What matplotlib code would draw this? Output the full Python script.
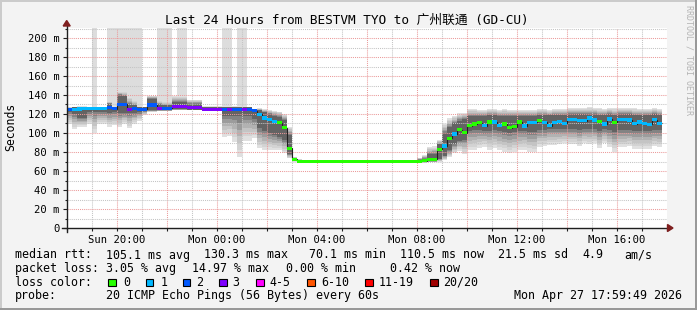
import numpy as np
import matplotlib.pyplot as plt
from matplotlib.patches import Rectangle, Polygon

plt.rcParams['font.family'] = ['DejaVu Sans Mono', 'Noto Sans CJK SC']

W, H = 697, 310
step_h = 0.2  # one step = 12 min, t=0 is Sun 18:00

# median rtt per step (ms)
median = [125, 125, 125.3, 125.5, 125.5, 125.5, 126, 126, 126.6, 125.5,
          130.2, 130.2, 125, 126, 125, 125, 129.5, 129.5, 126, 126,
          126, 127.7, 127.7, 127.7, 126.5, 126.5, 126.5, 125, 125, 125,
          125, 125, 125, 125, 125, 125, 125, 123.5, 119.5, 115.8,
          114, 112.2, 110.8, 105.6, 83.9, 72.3] + [70.3] * 25 + \
         [71, 72.5, 72.5, 82.8, 86.3, 94.4, 99, 103.5, 100.4,
          107.7, 109.5, 110.9, 107.7, 111.6, 111.6, 108.1, 109.5, 105.6, 106.7,
          111.6, 107.4, 111.2, 111.2, 113, 111.2, 107.7, 111.2, 111.9, 110.2,
          114.4, 114.4, 113, 113, 115.8, 113.7, 111.9, 109.5, 114.7, 111.2,
          114, 114.4, 113.7, 109.8, 111.6, 109.8, 109.1, 114, 110.2]

# lost pings (of 20) per step
loss = [2, 1, 1, 1, 1, 1, 1, 1, 2, 2,
        2, 2, 3, 2, 2, 2, 2, 2, 3, 2,
        2, 3, 3, 3, 3, 3, 3, 3, 3, 3,
        3, 2, 3, 2, 2, 3, 2, 2, 1, 1,
        1, 1] + [0] * 33 + \
       [1, 0, 1, 0, 0,
        0, 0, 0, 1, 0, 1, 1, 0, 0, 0,
        0, 1, 1, 1, 0, 1, 1, 1, 1, 1,
        1, 1, 1, 1, 1, 1, 0, 1, 1, 0,
        1, 1, 1, 1, 1, 1, 1, 1, 1]

# smoke extent (lowest / highest ping)
smoke_lo = [110, 104, 106.7, 106.7, 110, 100.4, 110, 110, 106.7, 108,
            106, 110, 105, 110, 113, 119, 122, 122, 123, 123,
            123, 124, 124, 124, 124, 124, 124, 123.5, 123.5, 123.5,
            123.5, 96, 97, 91, 75, 92, 92, 94.4, 84, 82,
            82, 82, 82, 78.6, 73.3, 70, 70, 70] + [70.3] * 22 + \
           [69.5, 68.7, 69, 69, 69.8, 71.6, 74.4, 78.6, 81.4, 78,
            82, 82, 84, 85.6, 82.5, 83.9, 82, 80.3, 78.6, 80.3,
            82, 82.5, 80.3, 79.6, 85.6, 86, 87.4, 87.4, 88, 89,
            88, 88, 86, 89, 88, 89, 84, 89, 85, 80.3,
            85, 85, 86, 83, 83, 83, 83, 86, 85]
smoke_hi = [127, 127, 128, 128, 127, 127, 127.5, 127.5, 133, 128,
            143.5, 143.5, 138, 134, 128, 127.5, 139, 139, 134, 133,
            133, 139, 139, 139, 135, 135, 135, 128, 128, 128,
            128, 128, 128, 128, 128, 128, 127, 125, 126, 125,
            124, 123.5, 122.5, 120, 106.7, 75, 72.6, 72] + [70.3] * 22 + \
           [74, 76.8, 85, 86, 92.6, 110, 115.4, 117.9, 120.7, 121,
            125, 125, 124.5, 124.5, 125, 125, 124, 125, 124, 124.5,
            124, 124, 124.5, 124, 125, 125, 124.5, 125, 125.5, 125,
            126.5, 126.5, 126, 126, 127, 126, 126, 125.5, 126, 126,
            126, 126, 126, 126, 125, 125.5, 125.5, 126, 125]

# dark core of the smoke
core_lo = [122.5, 120, 116, 116, 122, 122, 122, 122, 121, 122,
           120.7, 121, 121, 121, 122, 123, 124, 124, 124, 124,
           124, 125, 125, 125, 124.5, 124.5, 124.5, 123.5, 123.5, 123.5,
           123.5, 118, 118, 118, 118, 118, 118, 115, 105, 102,
           100, 98, 96, 93, 78, 70.5, 70.3, 70.3] + [70.3] * 22 + \
          [70, 70, 70.5, 70.5, 73, 76, 82, 88, 92, 93,
           102, 103, 103, 102, 102, 103, 102, 101, 100, 101,
           102, 102, 101, 101, 103, 103, 104, 104, 104, 104,
           104, 104, 103, 104, 104, 104, 102, 104, 103, 101,
           103, 103, 103, 102, 102, 102, 102, 103, 103]
core_hi = [126.5, 127, 127, 127, 127, 127, 127, 127, 131, 127,
           140, 139, 130, 129, 127, 127, 136, 136, 130, 129,
           129, 133, 133, 133, 131, 131, 131, 127, 127, 127,
           127, 127, 127, 127, 127, 127, 127, 125, 124, 122,
           120, 118, 117, 114, 98, 73, 71, 71] + [70.3] * 22 + \
          [72, 73, 78, 78, 88, 100, 106, 110, 113, 115,
           118, 118, 118, 118, 118.5, 118.5, 118, 118, 117.5, 118,
           118, 118, 118, 118, 119, 119, 118.5, 119, 119, 119,
           120, 120, 119.5, 119.5, 120, 119.5, 119, 119, 119.5, 119,
           119.5, 119.5, 119.5, 119, 119, 119, 119, 119.5, 119]

# steps where the highest ping is off the scale
spikes = [5, 8, 9, 10, 11, 12, 13, 14, 18, 19, 20, 22, 23, 31, 32, 34, 35]

loss_labels = ["0", "1", "2", "3", "4-5", "6-10", "11-19", "20/20"]
loss_colors = ["#26ff00", "#00b8ff", "#0059ff", "#7e00ff",
               "#ff00ff", "#ff5500", "#ff0000", "#a00000"]

tick_pos = [2, 6, 10, 14, 18, 22]
tick_labels = ["Sun 20:00", "Mon 00:00", "Mon 04:00", "Mon 08:00", "Mon 12:00", "Mon 16:00"]


def loss_color(n):
    if n <= 3:
        return loss_colors[n]
    if n <= 5:
        return loss_colors[4]
    if n <= 10:
        return loss_colors[5]
    if n <= 19:
        return loss_colors[6]
    return loss_colors[7]


def fx(x):
    return x / W


def fy(y):
    return 1 - y / H


fig = plt.figure(figsize=(W / 100, H / 100), dpi=100, facecolor='#f3f3f3')
YTOP = 211
ax = fig.add_axes([fx(66.7), fy(228), 600 / W, (YTOP * 0.95) / H])
ax.set_xlim(0, 24)
ax.set_ylim(0, YTOP)
ax.set_facecolor('white')
for s in ax.spines.values():
    s.set_visible(False)

t = np.arange(len(median)) * step_h
med = np.array(median)
lo, hi = np.array(smoke_lo), np.array(smoke_hi)
clo, chi = np.array(core_lo), np.array(core_hi)

# off-scale pings
sp = np.array(spikes)
ax.bar(t[sp], YTOP - med[sp], bottom=med[sp], width=step_h, align='edge',
       color='#dddddd', linewidth=0, zorder=1)

# smoke, light outside to dark inside
shades = ['#e0e0e0', '#d3d3d3', '#c4c4c4', '#b2b2b2', '#9c9c9c', '#838383', '#636363']
for k, c in enumerate(shades):
    f = k / (len(shades) - 1)
    b = lo + (clo - lo) * f
    top = hi + (chi - hi) * f
    ax.bar(t, top - b, bottom=b, width=step_h, align='edge', color=c,
           linewidth=0, zorder=2)

# grid (drawn over the smoke like rrdtool)
for h in range(1, 24):
    col = '#eb9a9a' if h % 2 == 0 else '#c4c4c4'
    ax.axvline(h, color=col, ls=(0, (1, 1)), lw=0.75, zorder=3)
for v in range(10, 211, 10):
    col = '#eb9a9a' if v % 20 == 0 else '#c4c4c4'
    ax.axhline(v, color=col, ls=(0, (1, 1)), lw=0.75, zorder=3)

# median line with loss colours
edges = np.append(t, t[-1] + step_h)
ax.stairs(med, edges, baseline=None, color='#202020', lw=0.8, zorder=4)
box_h = 3.3
ax.bar(t, box_h, bottom=med - box_h / 2, width=step_h, align='edge',
       color=[loss_color(n) for n in loss], linewidth=0, zorder=5)

# ticks
ax.set_yticks(range(0, 201, 20))
ax.set_yticklabels(["0"] + ["%d m" % v for v in range(20, 201, 20)])
ax.set_yticks(range(0, 211, 10), minor=True)
ax.set_xticks(tick_pos)
ax.set_xticklabels(tick_labels)
ax.set_xticks(range(0, 25), minor=True)
ax.tick_params(axis='y', which='major', length=3, width=0.8, pad=2, labelsize=7.6, color='#1f1f1f')
ax.tick_params(axis='y', which='minor', length=1.5, width=0.8, color='#1f1f1f')
ax.tick_params(axis='x', which='major', length=2, width=0.8, pad=3, labelsize=7.6, color='#1f1f1f')
ax.tick_params(axis='x', which='minor', length=2, width=0.8, color='#1f1f1f')

# axes with arrows
ax.plot([-0.19, 24.15], [0, 0], color='#1f1f1f', lw=1, clip_on=False, zorder=6)
ax.plot([0, 0], [-4, YTOP + 1.5], color='#1f1f1f', lw=1, clip_on=False, zorder=6)
arrow_c = '#7f1f1f'
fig.add_artist(Polygon([(fx(673), fy(228)), (fx(667.5), fy(224.5)), (fx(667.5), fy(231.5))],
                       closed=True, color=arrow_c, transform=fig.transFigure))
fig.add_artist(Polygon([(fx(66.7), fy(20.5)), (fx(63.2), fy(26)), (fx(70.2), fy(26))],
                       closed=True, color=arrow_c, transform=fig.transFigure))

# texts
fig.text(fx(346.5), fy(20.5), "Last 24 Hours from BESTVM TYO to 广州联通 (GD-CU)",
         ha='center', va='center', fontsize=9.2)
fig.text(fx(10.5), fy(127), "Seconds", rotation=90, ha='center', va='center', fontsize=8.3)
fig.text(fx(689), fy(60), "RRDTOOL / TOBI OETIKER", rotation=270, ha='center', va='center',
         fontsize=6, color='#b4b4b4')

fs = 8.4
row1 = [(16, "median rtt:"), (107, "105.1 ms avg"), (205, "130.3 ms max"), (310, "70.1 ms min"),
        (401, "110.5 ms now"), (499, "21.5 ms sd"), (583, "4.9"), (625, "am/s")]
row2 = [(16, "packet loss:"), (107, "3.05 % avg"), (193, "14.97 % max"), (287, "0.00 % min"),
        (391, "0.42 % now")]
for x, s in row1:
    fig.text(fx(x - 0.7), fy(255), s, ha='left', va='center', fontsize=fs)
for x, s in row2:
    fig.text(fx(x - 0.7), fy(268.5), s, ha='left', va='center', fontsize=fs)

fig.text(fx(15.3), fy(282.3), "loss color:", ha='left', va='center', fontsize=fs)
box_x = [108.3, 145.7, 182.7, 219.3, 256, 307, 365, 430.3]
lab_x = [124, 161.3, 197.3, 233.3, 270, 321.7, 379.3, 444.3]
for bx, lx, lab, col in zip(box_x, lab_x, loss_labels, loss_colors):
    fig.add_artist(Rectangle((fx(bx), fy(286)), 7.5 / W, 7.5 / H, facecolor=col,
                             edgecolor='black', lw=0.8, transform=fig.transFigure))
    fig.text(fx(lx - 0.7), fy(282.3), lab, ha='left', va='center', fontsize=fs)

fig.text(fx(15.3), fy(295.7), "probe:", ha='left', va='center', fontsize=fs)
fig.text(fx(106.3), fy(295.7), "20 ICMP Echo Pings (56 Bytes) every 60s", ha='left', va='center', fontsize=fs)
fig.text(fx(681.5), fy(295.7), "Mon Apr 27 17:59:49 2026", ha='right', va='center', fontsize=fs)

# frame
for (x, y, w, h, c) in [(0, 0, W, 2, '#cbcbcb'), (0, 0, 2, H, '#cbcbcb'),
                        (0, H - 2, W, 2, '#999999'), (W - 2, 0, 2, H, '#999999')]:
    fig.add_artist(Rectangle((fx(x), fy(y + h)), w / W, h / H, facecolor=c,
                             edgecolor='none', transform=fig.transFigure))

fig.savefig('out.png', dpi=100, facecolor=fig.get_facecolor())
